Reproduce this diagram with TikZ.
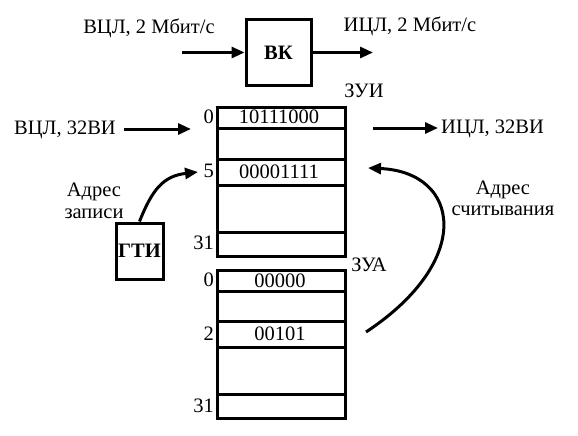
\documentclass[tikz,border=0pt]{standalone}
\usepackage{fontspec}
\setmainfont{Liberation Serif}
\usetikzlibrary{arrows.meta}
\begin{document}
\begin{tikzpicture}[x=1pt,y=-1pt,
  every node/.style={font=\fontsize{20.5}{23}\selectfont, inner sep=0pt},
  box/.style={draw, line width=3pt, rectangle},
  arr/.style={line width=3pt, -{Triangle[length=13pt,width=11pt]}},
  ln/.style={line width=3pt},
  lbl/.style={anchor=east},
  bold/.style={font=\fontsize{20.5}{23}\selectfont\bfseries},
]
\useasboundingbox (0,0) rectangle (578,436);
% top block
\node[box, bold, minimum width=65pt, minimum height=65pt] (vk) at (278.5,52.5) {ВК};
\node (in1) at (149,28) {ВЦЛ, 2 Мбит/с};
\node (out1) at (410,26) {ИЦЛ, 2 Мбит/с};
\coordinate (a1) at (182,52.5);
\coordinate (a2) at (373,52.5);
\draw[arr] (a1) -- (vk.west);
\draw[arr] (vk.east) -- (a2);

% ZUI memory
\node (zuil) at (364,91) {ЗУИ};
\node[box, minimum width=128pt, minimum height=149pt] (zui) at (281,181.5) {};
\draw[ln] (217,128) -- (345,128);
\draw[ln] (217,159) -- (345,159);
\draw[ln] (217,185) -- (345,185);
\draw[ln] (217,232) -- (345,232);
\node (z0) at (279,117) {10111000};
\node (z5) at (279,172) {00001111};
\node[lbl] (zl0) at (214,117) {0};
\node[lbl] (zl5) at (214,171) {5};
\node[lbl] (zl31) at (214,243) {31};

% ZUA memory
\node (zual) at (369,265) {ЗУА};
\node[box, minimum width=128pt, minimum height=148pt] (zua) at (281,344) {};
\draw[ln] (217,291) -- (345,291);
\draw[ln] (217,321) -- (345,321);
\draw[ln] (217,347) -- (345,347);
\draw[ln] (217,394) -- (345,394);
\node (a0) at (280,281) {00000};
\node (a2v) at (280,334) {00101};
\node[lbl] (al0) at (214,280) {0};
\node[lbl] (al2) at (214,334) {2};
\node[lbl] (al31) at (214,406) {31};

% input / output streams
\node (in2) at (65,130) {ВЦЛ, 32ВИ};
\coordinate (b1) at (124,129);
\coordinate (b2) at (191,129);
\draw[arr] (b1) -- (b2);
\coordinate (c1) at (373,128);
\coordinate (c2) at (438,128);
\draw[arr] (c1) -- (c2);
\node[anchor=west] (out2) at (441,129) {ИЦЛ, 32ВИ};

% GTI
\node[box, bold, minimum width=47pt, minimum height=56pt] (gti) at (139.5,251) {ГТИ};
\node[align=center] (wr) at (94,201) {Адрес\\[-1pt]записи};
\coordinate (w5) at (198,172);
\draw[arr] (gti.north) .. controls (152,190) and (163,176) .. (w5);

% read address
\node[align=center] (rd) at (503,198) {Адрес\\[-2pt]считывания};
\coordinate (rs) at (366,332);
\coordinate (re) at (368,168);
\draw[arr] (rs) .. controls (475,260) and (460,172) .. (re);
\end{tikzpicture}
\end{document}
